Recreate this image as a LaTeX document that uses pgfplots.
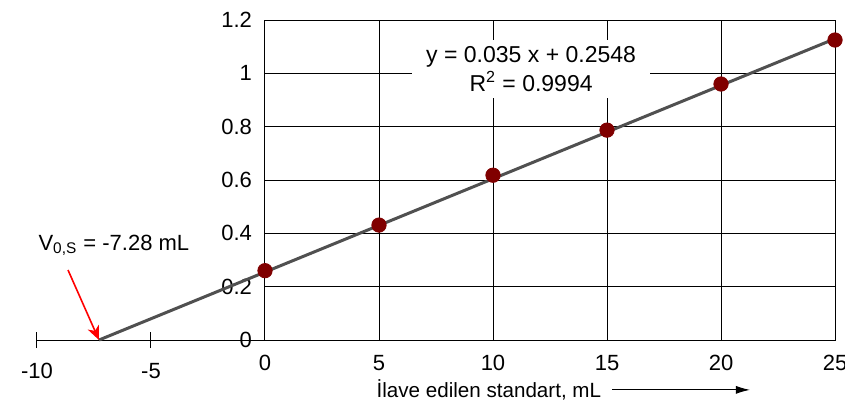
\documentclass[border=0pt]{standalone}
\usepackage{pgfplots}
\pgfplotsset{compat=1.18}
\usepackage{fontspec}
\setmainfont{Liberation Sans}
\usetikzlibrary{arrows.meta}
\definecolor{dotred}{RGB}{128,0,0}
\definecolor{fitgray}{RGB}{80,80,80}
\begin{document}
\begin{tikzpicture}[font=\fontsize{11}{14.5}\selectfont]
\useasboundingbox (-132.5pt,-34pt) rectangle (290pt,170pt);
% grid box, x from 0 to 25
\begin{axis}[
  at={(0,0)}, anchor=origin,
  x=11.4pt, y=133.33pt,
  xmin=0, xmax=25, ymin=0, ymax=1.2,
  xtick={0,5,10,15,20,25}, xticklabels={0,5,10,15,20,25},
  ytick={0,0.2,0.4,0.6,0.8,1,1.2}, yticklabels={0,0.2,0.4,0.6,0.8,1,1.2},
  grid=major, grid style={black, line width=0.5pt},
  axis line style={black, line width=0.5pt},
  major tick length=0pt,
  ticklabel style={font=\fontsize{11}{13}\selectfont},
  xticklabel style={yshift=-4pt},
  yticklabel style={xshift=-3pt},
]
\end{axis}
% negative part of x axis, fit line and points
\begin{axis}[
  at={(0,0)}, anchor=origin,
  x=11.4pt, y=133.33pt,
  xmin=-10, xmax=25, ymin=0, ymax=1.2,
  axis x line=bottom, axis y line=none,
  x axis line style={-, black, line width=0.5pt},
  every outer x axis line/.append style={-},
  xtick={-10,-5}, xticklabels={-10,-5},
  ytick=\empty,
  tick align=center, major tick length=8pt,
  tick style={black, line width=0.5pt},
  ticklabel style={font=\fontsize{11}{13}\selectfont},
  xticklabel style={yshift=-4pt},
  clip=false,
]
\addplot[no marks, line width=1.5pt, fitgray] coordinates {(-7.28,0) (25,1.1298)};
\addplot[only marks, mark=*, mark size=3.6pt, mark options={fill=dotred, draw=dotred}]
  coordinates {(0,0.26) (5,0.431) (10,0.618) (15,0.787) (20,0.96) (25,1.125)};
\node[fill=white, inner sep=0pt, minimum width=119pt, minimum height=29pt, align=center,
  font=\fontsize{11.5}{14.5}\selectfont]
  at (axis cs:11.67,1.016) {y = 0.035 x + 0.2548\\R\textsuperscript{2} = 0.9994};
\node[anchor=west, inner sep=0pt] at (axis cs:-9.95,0.355) {V\textsubscript{0,S} = -7.28 mL};
\draw[red, line width=0.8pt, -{Stealth[length=7pt, width=6pt, inset=2pt]}]
  (axis cs:-8.64,0.2625) -- (axis cs:-7.28,0);
\node[font=\fontsize{10.3}{13}\selectfont] at (axis cs:9.82,-0.187) {İlave edilen standart, mL};
\draw[line width=0.5pt, -{Latex[length=7pt, width=4pt]}]
  (axis cs:15.22,-0.187) -- (axis cs:21.27,-0.187);
\end{axis}
\end{tikzpicture}
\end{document}
